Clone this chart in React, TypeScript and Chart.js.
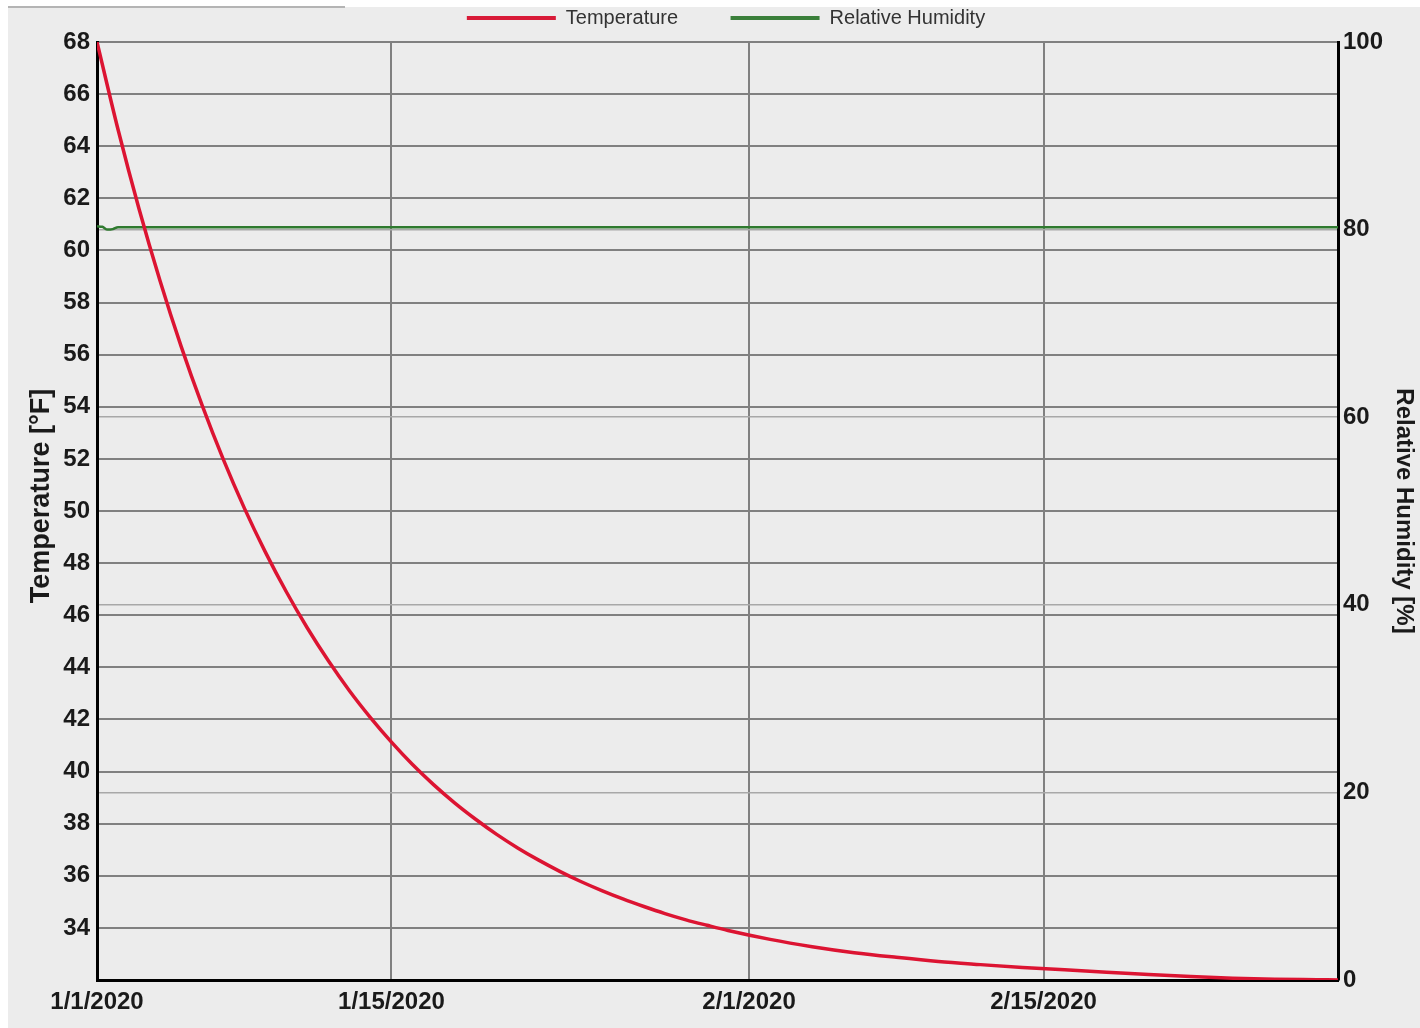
import React, { useEffect, useRef } from 'react';
import { Chart, registerables } from 'chart.js';

Chart.register(...registerables);

// Days since 1/1/2020
const dayValues = [0, 1, 2, 3, 4, 5, 6, 7, 8, 9, 10, 11, 12, 13, 14, 15, 16, 17, 18, 19, 20, 21, 22, 23, 24, 25, 26, 27, 28, 29, 30, 32, 34, 36, 38, 40, 42, 44, 46, 48, 50, 52, 54, 56, 58, 59];
const temperatureValues = [68.0, 64.64, 61.59, 58.83, 56.32, 54.05, 51.99, 50.12, 48.43, 46.9, 45.51, 44.25, 43.1, 42.07, 41.13, 40.27, 39.5, 38.8, 38.17, 37.59, 37.07, 36.6, 36.17, 35.78, 35.43, 35.11, 34.82, 34.55, 34.31, 34.1, 33.9, 33.56, 33.28, 33.05, 32.87, 32.71, 32.59, 32.48, 32.39, 32.3, 32.21, 32.13, 32.07, 32.03, 32.01, 32.0];

const humidityDays = [0, 0.25, 0.5, 0.75, 1.0, 59];
const humidityValues = [80.35, 80.3, 80.0, 80.05, 80.25, 80.25];

const dateTickDays = [0, 14, 31, 45];
const dateTickLabels = ['1/1/2020', '1/15/2020', '2/1/2020', '2/15/2020'];
const temperatureTicks = [34, 36, 38, 40, 42, 44, 46, 48, 50, 52, 54, 56, 58, 60, 62, 64, 66, 68];
const humidityTicks = [0, 20, 40, 60, 80, 100];

const FAMILY = '"Liberation Sans", Arial, Helvetica, sans-serif';

export default function App() {
  const ref = useRef<HTMLCanvasElement>(null);

  useEffect(() => {
    const canvas = ref.current;
    if (!canvas) return;
    const tickFont = { family: FAMILY, size: 24, weight: 'bold' as const };
    const chart = new Chart(canvas, {
      type: 'line',
      data: {
        datasets: [
          {
            label: 'Temperature',
            data: dayValues.map((d, i) => ({ x: d, y: temperatureValues[i] })),
            borderColor: '#dc1432',
            backgroundColor: '#d81a38',
            borderWidth: 3.5,
            pointRadius: 0,
            cubicInterpolationMode: 'monotone',
            yAxisID: 'yT',
          },
          {
            label: 'Relative Humidity',
            data: humidityDays.map((d, i) => ({ x: d, y: humidityValues[i] })),
            borderColor: '#2f7a2f',
            backgroundColor: '#3a7f3a',
            borderWidth: 2.5,
            pointRadius: 0,
            cubicInterpolationMode: 'monotone',
            yAxisID: 'yH',
          },
        ],
      },
      options: {
        responsive: false,
        animation: false,
        layout: { padding: { left: 24, right: 0, top: 0, bottom: 0 } },
        plugins: {
          tooltip: { enabled: false },
          title: {
            display: true,
            text: '',
            weight: 500,
            padding: 0,
            font: { size: 4, lineHeight: 1 },
          } as any,
          legend: {
            display: true,
            position: 'top',
            labels: {
              boxWidth: 89,
              boxHeight: 4,
              padding: 8,
              color: '#333',
              font: { family: FAMILY, size: 20 },
              generateLabels: (c: Chart) => {
                const items = (Chart.defaults.plugins.legend.labels as any).generateLabels(c);
                items.forEach((it: any, i: number) => {
                  it.lineWidth = 0;
                  if (i === 0) it.text = it.text + ' '.repeat(8);
                });
                return items;
              },
            },
          },
        },
        scales: {
          x: {
            type: 'linear',
            min: 0,
            max: 59,
            afterBuildTicks: (s: any) => {
              s.ticks = dateTickDays.map((v) => ({ value: v }));
            },
            afterFit: (s: any) => {
              s.height = 48;
            },
            ticks: {
              autoSkip: false,
              maxRotation: 0,
              padding: 8,
              color: '#1a1a1a',
              font: tickFont,
              callback: (v: any) => {
                const i = dateTickDays.indexOf(Number(v));
                return i >= 0 ? dateTickLabels[i] : '';
              },
            },
            grid: { color: '#808080', lineWidth: 2, drawTicks: false },
            border: { color: '#000', width: 3 },
          },
          yT: {
            type: 'linear',
            position: 'left',
            min: 32,
            max: 68,
            afterBuildTicks: (s: any) => {
              s.ticks = temperatureTicks.map((v) => ({ value: v }));
            },
            afterFit: (s: any) => {
              s.width = 65;
            },
            ticks: { autoSkip: false, padding: 7, color: '#1a1a1a', font: tickFont },
            grid: { color: '#808080', lineWidth: 2, drawTicks: false },
            border: { color: '#000', width: 3 },
            title: {
              display: true,
              text: '    Temperature [°F]',
              color: '#1a1a1a',
              font: { family: FAMILY, size: 27, weight: 'bold', lineHeight: 0.7 },
              padding: { top: 0, bottom: 0 },
            },
          },
          yH: {
            type: 'linear',
            position: 'right',
            min: 0,
            max: 100,
            afterBuildTicks: (s: any) => {
              s.ticks = humidityTicks.map((v) => ({ value: v }));
            },
            afterFit: (s: any) => {
              s.width = 82;
            },
            ticks: { autoSkip: false, padding: 5, color: '#1a1a1a', font: tickFont },
            grid: {
              color: (ctx: any) =>
                ctx.tick && (ctx.tick.value === 0 || ctx.tick.value === 100) ? 'rgba(0,0,0,0)' : '#a8a8a8',
              lineWidth: 1.5,
              drawTicks: false,
            },
            border: { color: '#000', width: 3 },
            title: {
              display: true,
              text: 'Relative Humidity [%]',
              color: '#1a1a1a',
              font: { family: FAMILY, size: 24, weight: 'bold', lineHeight: 1 },
              padding: { top: 4, bottom: 0 },
            },
          },
        },
      } as any,
    });
    return () => chart.destroy();
  }, []);

  return (
    <div style={{ position: 'fixed', left: 0, top: 0, width: 1420, height: 1028, background: '#ffffff', overflow: 'hidden' }}>
      <div style={{ position: 'absolute', left: 8, top: 7, right: 0, bottom: 0, background: '#ececec' }} />
      <div style={{ position: 'absolute', left: 8, top: 6, width: 337, height: 2, background: '#b4b4b4' }} />
      <canvas
        ref={ref}
        width={1412}
        height={1028}
        style={{ position: 'absolute', left: 8, top: 0, display: 'block' }}
      />
    </div>
  );
}
